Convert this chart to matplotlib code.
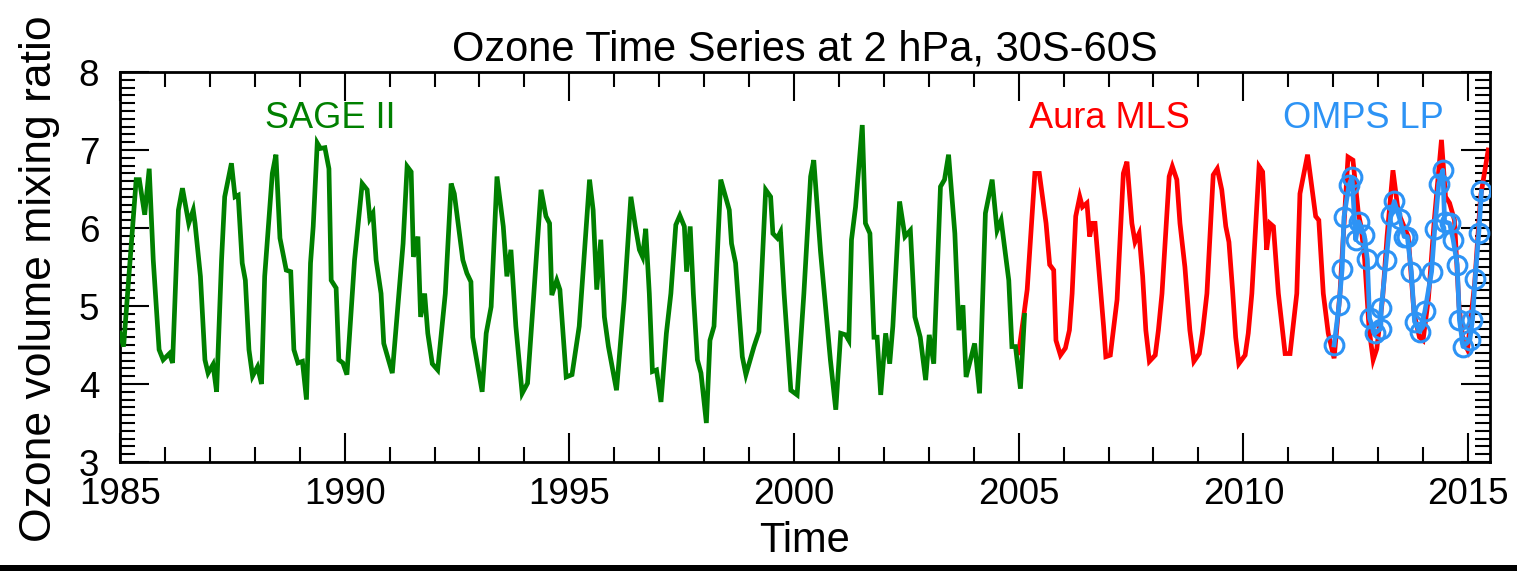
import matplotlib
matplotlib.use("Agg")
import matplotlib.pyplot as plt
from matplotlib.ticker import MultipleLocator
from matplotlib.patches import Rectangle

plt.rcParams['font.family'] = ['Liberation Sans', 'DejaVu Sans']

# ---------------- data ----------------
sage_t = [1985.00, 1985.08, 1985.36, 1985.43, 1985.55, 1985.65, 1985.74, 1985.87, 1985.96, 1986.10,
          1986.17, 1986.30, 1986.39, 1986.53, 1986.63, 1986.67, 1986.79, 1986.89, 1986.96, 1987.07,
          1987.15, 1987.26, 1987.33, 1987.48, 1987.56, 1987.63, 1987.72, 1987.79, 1987.87, 1987.95,
          1988.06, 1988.15, 1988.22, 1988.39, 1988.47, 1988.56, 1988.70, 1988.80, 1988.87, 1988.96,
          1989.06, 1989.15, 1989.24, 1989.30, 1989.39, 1989.46, 1989.56, 1989.65, 1989.70, 1989.81,
          1989.87, 1989.96, 1990.05, 1990.22, 1990.39, 1990.50, 1990.56, 1990.63, 1990.70, 1990.81,
          1990.87, 1991.06, 1991.30, 1991.39, 1991.48, 1991.53, 1991.63, 1991.69, 1991.78, 1991.85,
          1991.95, 1992.07, 1992.24, 1992.37, 1992.44, 1992.63, 1992.72, 1992.81, 1992.85, 1993.06,
          1993.15, 1993.26, 1993.39, 1993.53, 1993.61, 1993.70, 1993.81, 1993.95, 1994.07, 1994.19,
          1994.37, 1994.48, 1994.56, 1994.61, 1994.72, 1994.79, 1994.93, 1995.06, 1995.22, 1995.45,
          1995.53, 1995.61, 1995.70, 1995.78, 1995.87, 1996.05, 1996.15, 1996.22, 1996.37, 1996.47,
          1996.56, 1996.63, 1996.70, 1996.78, 1996.85, 1996.94, 1997.04, 1997.16, 1997.26, 1997.37,
          1997.46, 1997.56, 1997.61, 1997.69, 1997.76, 1997.85, 1997.93, 1998.05, 1998.13, 1998.22,
          1998.37, 1998.56, 1998.61, 1998.70, 1998.85, 1998.93, 1999.11, 1999.22, 1999.37, 1999.48,
          1999.53, 1999.63, 1999.70, 1999.78, 1999.93, 2000.07, 2000.22, 2000.37, 2000.44, 2000.59,
          2000.81, 2000.93, 2001.04, 2001.15, 2001.22, 2001.28, 2001.37, 2001.52, 2001.59, 2001.69,
          2001.78, 2001.85, 2001.93, 2002.04, 2002.13, 2002.20, 2002.35, 2002.47, 2002.59, 2002.69,
          2002.81, 2002.93, 2003.01, 2003.11, 2003.26, 2003.35, 2003.44, 2003.58, 2003.67, 2003.76,
          2003.83, 2004.02, 2004.13, 2004.26, 2004.41, 2004.52, 2004.61, 2004.78, 2004.85, 2004.93,
          2005.04, 2005.13]
sage_v = [4.65, 4.48, 6.62, 6.62, 6.17, 6.76, 5.59, 4.44, 4.31, 4.39,
          4.27, 6.23, 6.51, 6.06, 6.23, 6.06, 5.38, 4.31, 4.14, 4.25,
          3.90, 5.59, 6.40, 6.83, 6.40, 6.42, 5.55, 5.33, 4.44, 4.10,
          4.22, 4.00, 5.38, 6.70, 6.94, 5.87, 5.46, 5.44, 4.44, 4.27,
          4.29, 3.80, 5.55, 6.02, 7.09, 7.02, 7.03, 6.76, 5.33, 5.23,
          4.31, 4.27, 4.12, 5.59, 6.57, 6.49, 6.12, 6.19, 5.59, 5.16,
          4.52, 4.14, 5.80, 6.79, 6.72, 5.63, 5.89, 4.86, 5.16, 4.65,
          4.26, 4.18, 5.16, 6.57, 6.44, 5.59, 5.42, 5.31, 4.60, 3.90,
          4.65, 4.99, 6.66, 6.02, 5.38, 5.72, 4.74, 3.88, 4.01, 4.99,
          6.49, 6.15, 6.06, 5.14, 5.33, 5.21, 4.09, 4.12, 4.74, 6.62,
          6.23, 5.21, 5.85, 4.86, 4.48, 3.92, 4.60, 5.08, 6.40, 6.02,
          5.72, 5.63, 5.99, 5.16, 4.16, 4.18, 3.77, 4.65, 5.16, 6.04,
          6.16, 6.02, 5.44, 6.02, 5.16, 4.31, 4.14, 3.50, 4.56, 4.74,
          6.62, 6.23, 5.80, 5.55, 4.35, 4.12, 4.48, 4.67, 6.49, 6.40,
          5.93, 5.87, 5.95, 5.16, 3.92, 3.86, 5.16, 6.66, 6.87, 5.70,
          4.31, 3.67, 4.65, 4.63, 4.56, 5.85, 6.27, 7.32, 6.06, 5.93,
          4.60, 4.60, 3.86, 4.65, 4.26, 4.74, 6.34, 5.89, 5.97, 4.86,
          4.60, 4.05, 4.63, 4.26, 6.53, 6.62, 6.94, 5.93, 4.69, 5.01,
          4.09, 4.52, 3.88, 6.19, 6.62, 5.97, 6.10, 5.33, 4.48, 4.48,
          3.94, 4.88]

mls_t = [2005.00, 2005.11, 2005.19, 2005.36, 2005.46, 2005.61, 2005.69, 2005.78, 2005.83, 2005.93,
         2006.04, 2006.13, 2006.19, 2006.27, 2006.36, 2006.42, 2006.52, 2006.58, 2006.64, 2006.70,
         2006.89, 2006.94, 2007.04, 2007.19, 2007.33, 2007.41, 2007.52, 2007.59, 2007.68, 2007.76,
         2007.83, 2007.91, 2008.04, 2008.11, 2008.19, 2008.35, 2008.42, 2008.52, 2008.59, 2008.70,
         2008.81, 2008.90, 2009.02, 2009.09, 2009.19, 2009.33, 2009.42, 2009.52, 2009.61, 2009.68,
         2009.76, 2009.83, 2009.90, 2010.04, 2010.11, 2010.19, 2010.35, 2010.43, 2010.52, 2010.59,
         2010.67, 2010.78, 2010.93, 2011.04, 2011.19, 2011.26, 2011.43, 2011.61, 2011.68, 2011.78,
         2011.89, 2012.02, 2012.15, 2012.33, 2012.44, 2012.56, 2012.62, 2012.70, 2012.80, 2012.89,
         2012.97, 2013.10, 2013.20, 2013.33, 2013.45, 2013.52, 2013.67, 2013.80, 2013.92, 2014.00,
         2014.12, 2014.25, 2014.41, 2014.50, 2014.59, 2014.70, 2014.80, 2014.89, 2014.99, 2015.15,
         2015.28, 2015.45]
mls_v = [4.40, 4.86, 5.21, 6.70, 6.70, 6.06, 5.53, 5.46, 4.56, 4.37,
         4.46, 4.69, 5.16, 6.15, 6.40, 6.27, 6.32, 5.89, 6.06, 6.06,
         4.74, 4.35, 4.37, 5.08, 6.70, 6.85, 6.06, 5.82, 5.93, 5.38,
         4.69, 4.29, 4.37, 4.69, 5.16, 6.66, 6.79, 6.62, 6.06, 5.50,
         4.69, 4.29, 4.39, 4.65, 5.16, 6.68, 6.76, 6.49, 6.02, 5.82,
         5.21, 4.60, 4.26, 4.37, 4.65, 5.16, 6.79, 6.72, 5.72, 6.06,
         6.02, 5.16, 4.39, 4.39, 5.16, 6.44, 6.94, 6.15, 6.10, 5.16,
         4.65, 4.33, 5.16, 6.91, 6.87, 6.19, 6.02, 5.60, 4.70, 4.31,
         4.45, 5.10, 5.90, 6.74, 6.20, 6.10, 5.89, 4.90, 4.60, 4.56,
         5.10, 6.10, 7.13, 6.40, 6.32, 6.10, 5.00, 4.56, 4.44, 5.30,
         6.40, 7.00]

omps_t = [2012.02, 2012.13, 2012.20, 2012.24, 2012.35, 2012.42, 2012.50, 2012.57, 2012.69, 2012.76,
          2012.81, 2012.93, 2013.06, 2013.07, 2013.18, 2013.28, 2013.36, 2013.48, 2013.58, 2013.65,
          2013.74, 2013.81, 2013.93, 2014.04, 2014.19, 2014.26, 2014.35, 2014.44, 2014.48, 2014.59,
          2014.67, 2014.76, 2014.81, 2014.89, 2015.04, 2015.10, 2015.16, 2015.24, 2015.30]
omps_v = [4.50, 5.01, 5.48, 6.14, 6.55, 6.65, 5.85, 6.08, 5.91, 5.60,
          4.84, 4.65, 4.71, 4.97, 5.59, 6.17, 6.34, 6.12, 5.89, 5.89,
          5.44, 4.80, 4.67, 4.93, 5.44, 5.99, 6.57, 6.74, 6.08, 6.06,
          5.85, 5.53, 4.82, 4.48, 4.56, 4.82, 5.35, 5.93, 6.47]

labels = ["SAGE II", "Aura MLS", "OMPS LP"]
label_x = [1988.22, 2005.22, 2010.89]
colors = ["#008000", "#ff0000", "#2d93f5"]

# ---------------- figure ----------------
W, H = 1517, 571
fig = plt.figure(figsize=(W / 100, H / 100), dpi=100)
ax = fig.add_axes([120 / W, (H - 462) / H, (1490 - 120) / W, (462 - 72) / H])

ax.plot(sage_t, sage_v, color=colors[0], lw=3.4, solid_joinstyle='miter', zorder=3)
ax.plot(mls_t, mls_v, color=colors[1], lw=3.4, solid_joinstyle='miter', zorder=2)
ax.plot(omps_t, omps_v, color=colors[2], lw=3.4, marker='o', ms=13.5, mfc='none',
        mec=colors[2], mew=2.2, zorder=4)

for lab, lx, c in zip(labels, label_x, colors):
    ax.text(lx, 7.41, lab, color=c, fontsize=26, va='center', ha='left')

ax.set_xlim(1985, 2015.49)
ax.set_ylim(3, 8)
ax.xaxis.set_major_locator(MultipleLocator(5))
ax.xaxis.set_minor_locator(MultipleLocator(1))
ax.yaxis.set_major_locator(MultipleLocator(1))
ax.yaxis.set_minor_locator(MultipleLocator(0.1))
ax.tick_params(which='both', direction='in', top=True, right=True, labelsize=26.5, width=1.5)
ax.tick_params(which='major', length=21)
ax.tick_params(which='minor', length=10.5)
ax.tick_params(axis='x', which='both', pad=11)
ax.tick_params(axis='y', which='both', pad=15)
for s in ax.spines.values():
    s.set_linewidth(2.0)

ax.set_title("Ozone Time Series at 2 hPa, 30S-60S", fontsize=30, pad=8)
ax.set_xlabel("Time", fontsize=30, labelpad=6)
ax.set_ylabel("Ozone volume mixing ratio", fontsize=32)
ax.yaxis.set_label_coords(-0.044, 0.47)

fig.add_artist(Rectangle((0, 0), 1, 6 / H, transform=fig.transFigure,
                         facecolor='black', edgecolor='none'))

fig.savefig("out.png", dpi=100)
